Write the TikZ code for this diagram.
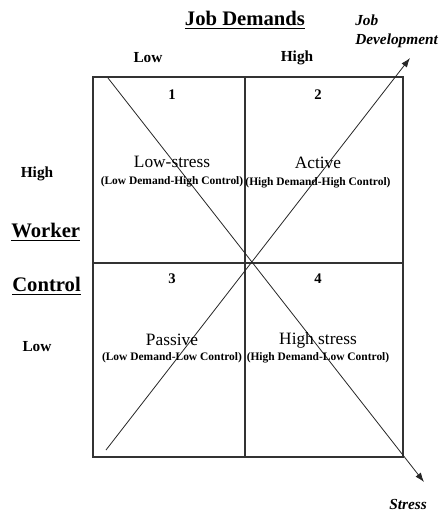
\documentclass[tikz,border=0pt]{standalone}
\usepackage{fontspec}
\setmainfont{Liberation Serif}
\usetikzlibrary{
    arrows.meta,   % Arrow tips
    calc           % Coordinate calculations
}

\tikzset{
    quadlabel/.style={font=\fontsize{13}{14}\selectfont, inner sep=0pt},
    quadsub/.style={font=\fontsize{8.6}{9}\selectfont\bfseries, inner sep=0pt},
    quadnum/.style={font=\fontsize{11}{12}\selectfont\bfseries, inner sep=0pt},
    axislabel/.style={font=\fontsize{11.5}{13}\selectfont\bfseries, inner sep=0pt},
    axistitle/.style={font=\fontsize{15.5}{16}\selectfont\bfseries, inner sep=0pt},
    trendlabel/.style={font=\fontsize{11.5}{14}\selectfont\bfseries\itshape, inner sep=0pt, align=left},
    gridline/.style={line width=1pt, draw=black!80},
    trendline/.style={line width=0.6pt, draw=black!85, -{Latex[length=7pt,width=5pt]}}
}

\begin{document}
\begin{tikzpicture}[x=0.75pt, y=-0.75pt]
    \useasboundingbox (0,0) rectangle (445,512);

    % grid
    \coordinate (tl) at (93,77);
    \coordinate (br) at (403,457);
    \coordinate (tm) at (245,77);
    \coordinate (bm) at (245,457);
    \coordinate (ml) at (93,263);
    \coordinate (mr) at (403,263);
    \draw[gridline] (tl) rectangle (br);
    \draw[gridline] (tm) -- (bm);
    \draw[gridline] (ml) -- (mr);

    % diagonals
    \coordinate (stressstart) at (108,78);
    \coordinate (stressend) at (424,482);
    \coordinate (devstart) at (106,450);
    \coordinate (devend) at (410,58);
    \draw[trendline] (stressstart) -- (stressend);
    \draw[trendline] (devstart) -- (devend);

    % axis titles
    \node[axistitle] (demands) at (245,20) {\underline{Job Demands}};
    \node[axislabel] (demlow) at (148,58) {Low};
    \node[axislabel] (demhigh) at (297,58) {High};
    \node[axistitle, anchor=west] (worker) at (11,232) {\underline{Worker}};
    \node[axistitle, anchor=west] (control) at (12,286) {\underline{Control}};
    \node[axislabel] (ctrlhigh) at (37,174) {High};
    \node[axislabel] (ctrllow) at (37,347) {Low};

    % trend labels
    \node[trendlabel, anchor=west] (jobdev) at (355,31) {Job\\Development};
    \node[trendlabel] (stress) at (408,504) {Stress};

    % quadrants
    \node[quadnum] (n1) at (172,95) {1};
    \node[quadnum] (n2) at (318,95) {2};
    \node[quadnum] (n3) at (172,279) {3};
    \node[quadnum] (n4) at (318,279) {4};

    \node[quadlabel] (lowstress) at (172,162) {Low-stress};
    \node[quadsub] (lowstresssub) at (172,182) {(Low Demand-High Control)};
    \node[quadlabel] (active) at (318,163) {Active};
    \node[quadsub] (activesub) at (318,183) {(High Demand-High Control)};
    \node[quadlabel] (passive) at (172,340) {Passive};
    \node[quadsub] (passivesub) at (172,358) {(Low Demand-Low Control)};
    \node[quadlabel] (highstress) at (318,340) {High stress};
    \node[quadsub] (highstresssub) at (318,358) {(High Demand-Low Control)};
\end{tikzpicture}
\end{document}
